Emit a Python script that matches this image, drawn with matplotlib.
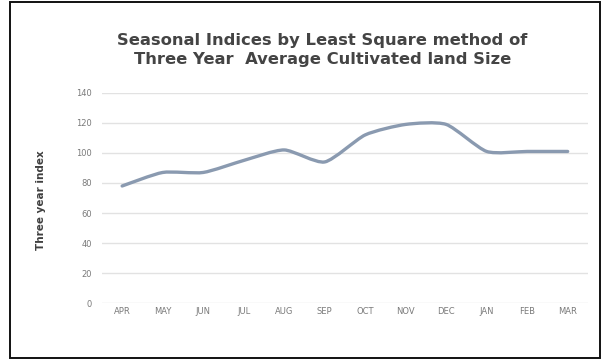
import numpy as np
import matplotlib
matplotlib.use("Agg")
import matplotlib.pyplot as plt
from matplotlib.path import Path
from matplotlib.patches import PathPatch, Rectangle

months = ["APR", "MAY", "JUN", "JUL", "AUG", "SEP", "OCT", "NOV", "DEC", "JAN", "FEB", "MAR"]
indices = [78, 87, 87, 95, 102, 94, 112, 119, 119, 101, 101, 101]
y_ticks = [0, 20, 40, 60, 80, 100, 120, 140]

title = "Seasonal Indices by Least Square method of\nThree Year  Average Cultivated land Size"
y_label = "Three year index"

fig = plt.figure(figsize=(6.03, 3.60), dpi=100)
ax = fig.add_axes([0.169, 0.158, 0.806, 0.584])

x = np.arange(len(months))
y = np.array(indices, dtype=float)

# smoothed line (Bezier segments with gentle tangents)
verts = [(x[0], y[0])]
codes = [Path.MOVETO]
n = len(x)
k = 9.0
for i in range(n - 1):
    p0 = np.array([x[max(i - 1, 0)], y[max(i - 1, 0)]])
    p1 = np.array([x[i], y[i]])
    p2 = np.array([x[i + 1], y[i + 1]])
    p3 = np.array([x[min(i + 2, n - 1)], y[min(i + 2, n - 1)]])
    c1 = p1 + (p2 - p0) / k
    c2 = p2 - (p3 - p1) / k
    verts += [tuple(c1), tuple(c2), tuple(p2)]
    codes += [Path.CURVE4] * 3
ax.add_patch(PathPatch(Path(verts, codes), facecolor="none",
                       edgecolor="#8a9ab0", lw=2.4, capstyle="round", zorder=3))

ax.set_xlim(-0.5, n - 0.5)
ax.set_ylim(0, 140)
ax.set_yticks(y_ticks)
ax.set_yticklabels([str(v) for v in y_ticks])
ax.set_xticks(x)
ax.set_xticklabels(months)
ax.grid(axis="y", color="#e2e2e2", lw=1.0)
ax.set_axisbelow(True)
for s in ax.spines.values():
    s.set_visible(False)
ax.tick_params(axis="both", length=0, labelsize=6, labelcolor="#7a7a7a")
ax.tick_params(axis="x", pad=3)
ax.tick_params(axis="y", pad=7)

fig.text(0.068, 0.443, y_label, rotation=90, ha="center", va="center",
         fontsize=7.5, color="#404040", fontweight="bold")
fig.text(0.535, 0.862, title, ha="center", va="center", fontsize=11.8,
         fontweight="bold", color="#444444", linespacing=1.35)

# outer chart frame
fig.patches.append(Rectangle((10 / 603, 2 / 360), 590 / 603, 356 / 360,
                             transform=fig.transFigure, fill=False,
                             edgecolor="#111111", lw=1.4))

fig.savefig("out.png", dpi=100)
